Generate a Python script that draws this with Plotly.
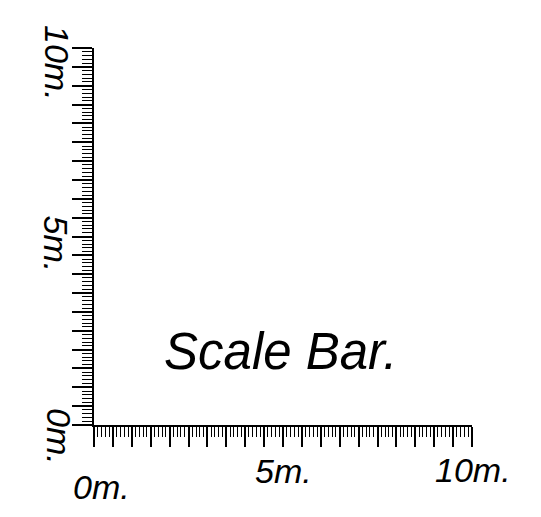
import plotly.graph_objects as go

# Data
scale_min = 0
scale_max = 10
major_step = 0.5
minor_step = 0.1
tick_values = [0, 5, 10]
tick_labels = ["0m.", "5m.", "10m."]
title_text = "Scale Bar."

FONT = "Liberation Sans, Arial, Helvetica, sans-serif"

fig = go.Figure()

axis_common = dict(
    range=[scale_min, scale_max],
    showline=True, linecolor="black", linewidth=2,
    ticks="outside", tick0=0, dtick=major_step, ticklen=20, tickwidth=1.6, tickcolor="black",
    minor=dict(ticks="outside", dtick=minor_step, tick0=0, ticklen=10, tickwidth=1.3, tickcolor="black", showgrid=False),
    showticklabels=False, showgrid=False, zeroline=False, fixedrange=True,
)
fig.update_xaxes(**axis_common)
fig.update_yaxes(**axis_common)

annotations = []
# x-axis labels (pixel offsets for placement)
x_shifts = [(7, -62), (0, -46), (1, -45)]
for v, lab, (dx, dy) in zip(tick_values, tick_labels, x_shifts):
    annotations.append(dict(
        x=v, y=0, xref="x", yref="y", text=lab, showarrow=False,
        xshift=dx, yshift=dy, xanchor="center", yanchor="middle",
        font=dict(family=FONT, size=34, color="black", style="italic"),
    ))
# y-axis labels (rotated)
y_shifts = [(-35, -11), (-38, -7), (-37, -15)]
for v, lab, (dx, dy) in zip(tick_values, tick_labels, y_shifts):
    annotations.append(dict(
        x=0, y=v, xref="x", yref="y", text=lab, showarrow=False, textangle=90,
        xshift=dx, yshift=dy, xanchor="center", yanchor="middle",
        font=dict(family=FONT, size=34, color="black", style="italic"),
    ))
# title inside plot
annotations.append(dict(
    x=5, y=2, xref="x", yref="y", text=title_text, showarrow=False,
    xshift=-3, yshift=-2, xanchor="center", yanchor="middle",
    font=dict(family=FONT, size=51, color="black", style="italic"),
))

fig.update_layout(
    width=525, height=501, autosize=False,
    margin=dict(l=86, r=61, t=40, b=84),
    paper_bgcolor="white", plot_bgcolor="white",
    showlegend=False,
    annotations=annotations,
)

fig.write_html("out.html")
